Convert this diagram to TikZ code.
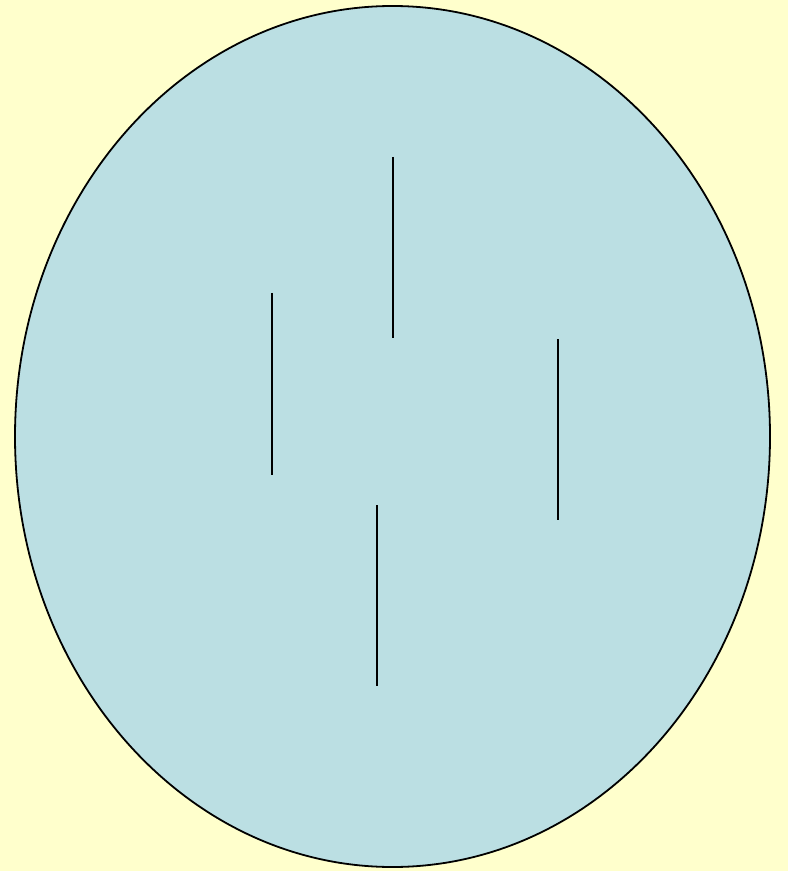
\documentclass[tikz,border=0pt]{standalone}
\usepackage{tikz}
\usetikzlibrary{positioning}
\definecolor{paleyellow}{HTML}{FFFFCC}
\definecolor{cellblue}{HTML}{BBDFE3}

\begin{document}
\begin{tikzpicture}[
    x=0.5pt, y=-0.5pt,
    cell/.style={draw=black, line width=0.9pt, fill=cellblue},
    rod/.style={draw=black, line width=0.9pt},
]
% Background
\fill[paleyellow] (0,0) rectangle (788,871);
\useasboundingbox (0,0) rectangle (788,871);

% Cell
\path[cell] (392.5,436.5) ellipse [x radius=377.5, y radius=430.5];

% Rods
\coordinate (r1a) at (393,157); \coordinate (r1b) at (393,338);
\coordinate (r2a) at (272,293); \coordinate (r2b) at (272,475);
\coordinate (r3a) at (558,339); \coordinate (r3b) at (558,520);
\coordinate (r4a) at (377,505); \coordinate (r4b) at (377,686);

\draw[rod] (r1a) -- (r1b);
\draw[rod] (r2a) -- (r2b);
\draw[rod] (r3a) -- (r3b);
\draw[rod] (r4a) -- (r4b);
\end{tikzpicture}
\end{document}
